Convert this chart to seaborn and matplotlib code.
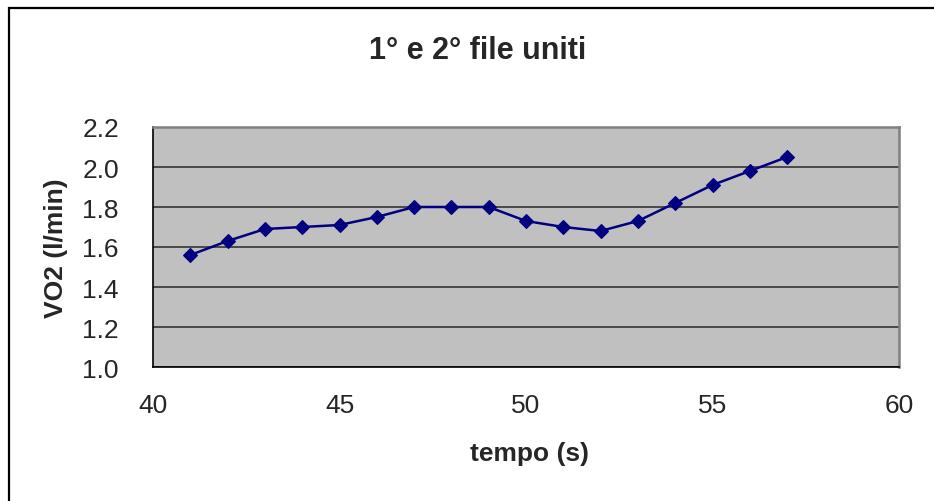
import matplotlib
matplotlib.use("Agg")
import matplotlib.pyplot as plt
import seaborn as sns
import pandas as pd
from matplotlib.patches import Rectangle

tempo = [41, 42, 43, 44, 45, 46, 47, 48, 49, 50, 51, 52, 53, 54, 55, 56, 57]
vo2 = [1.56, 1.63, 1.69, 1.70, 1.71, 1.75, 1.80, 1.80, 1.80, 1.73, 1.70,
       1.68, 1.73, 1.82, 1.91, 1.98, 2.05]
x_ticks = [40, 45, 50, 55, 60]
y_ticks = [1.0, 1.2, 1.4, 1.6, 1.8, 2.0, 2.2]

sns.set_style("white")
plt.rcParams["font.family"] = ["Liberation Sans", "DejaVu Sans"]

df = pd.DataFrame({"tempo": tempo, "vo2": vo2})

W, H = 934, 502
fig = plt.figure(figsize=(W / 100, H / 100), dpi=100)
left, right, top, bottom = 153, 899, 128, 368
ax = fig.add_axes([left / W, 1 - bottom / H, (right - left) / W,
                   (bottom - top) / H])
ax.set_facecolor("#c0c0c0")

sns.lineplot(data=df, x="tempo", y="vo2", ax=ax, color="#000080",
             marker="D", markersize=7.5, markeredgecolor="#000080",
             markeredgewidth=0.8, linewidth=1.8, zorder=3)

ax.set_xlim(40, 60)
ax.set_ylim(1.0, 2.2)
ax.set_xticks(x_ticks)
ax.set_yticks(y_ticks)
ax.set_xticklabels([str(v) for v in x_ticks])
ax.set_yticklabels([f"{v:.1f}" for v in y_ticks])
ax.tick_params(axis="both", labelsize=19, direction="out", length=5.5,
               width=1, color="black")
ax.tick_params(axis="x", pad=13)
ax.tick_params(axis="y", pad=19)
ax.grid(axis="y", color="#404040", linewidth=1.3)
ax.grid(axis="x", visible=False)
ax.set_axisbelow(True)

for side in ("left", "bottom"):
    ax.spines[side].set_color("black")
    ax.spines[side].set_linewidth(1.2)
for side in ("top", "right"):
    ax.spines[side].set_color("#808080")
    ax.spines[side].set_linewidth(1.8)

ax.set_xlabel("")
ax.set_ylabel("")

fig.text(478 / W, 1 - 59 / H, "1° e 2° file uniti", ha="center",
         va="baseline", fontsize=22, fontweight="bold")
fig.text(529 / W, 1 - 454 / H, "tempo (s)", ha="center", va="center",
         fontsize=19, fontweight="bold")
fig.text(56 / W, 1 - 248 / H, "VO2 (l/min)", ha="center", va="center",
         fontsize=19, fontweight="bold", rotation=90)

# chart area border
fig.patches.append(Rectangle((9 / W, -0.1), 1.2, 1 - 9 / H + 0.1,
                             transform=fig.transFigure, fill=False,
                             edgecolor="black", linewidth=1.6))

fig.savefig("out.png", dpi=100)
